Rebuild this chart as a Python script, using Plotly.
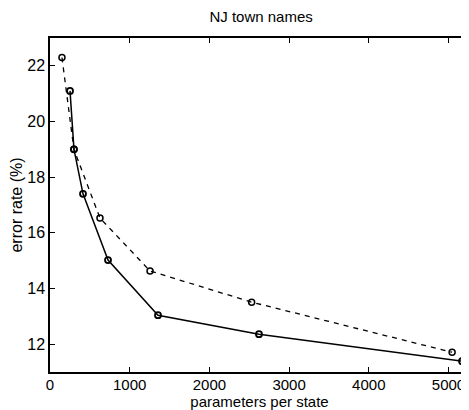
import plotly.graph_objects as go

# Data
solid_x = [251, 301, 414, 728, 1355, 2622, 5170]
solid_y = [21.1, 19.0, 17.4, 15.02, 13.04, 12.36, 11.39]
dash_x = [150, 300, 627, 1255, 2530, 5045]
dash_y = [22.3, 19.0, 16.53, 14.63, 13.51, 11.71]

x_ticks = [0, 1000, 2000, 3000, 4000, 5000]
y_ticks = [12, 14, 16, 18, 20, 22]

FONT = "Liberation Sans, Arial, Helvetica, sans-serif"

fig = go.Figure()
fig.add_trace(go.Scatter(
    x=dash_x, y=dash_y, mode="lines+markers",
    line=dict(color="black", width=1.3, dash="5px,5px"),
    marker=dict(symbol="circle-open", size=6, color="black", line=dict(width=1.5)),
    showlegend=False,
))
fig.add_trace(go.Scatter(
    x=solid_x, y=solid_y, mode="lines+markers",
    line=dict(color="black", width=1.5),
    marker=dict(symbol="circle-open", size=6, color="black", line=dict(width=1.8)),
    showlegend=False,
))

axis_common = dict(
    showgrid=False, zeroline=False, showline=True, linecolor="black", linewidth=1.5,
    mirror="allticks", ticks="inside", ticklen=5, tickwidth=1, tickcolor="black",
)
# page body has an 8px margin; figure is sized so that the visible region matches
fig.update_layout(
    width=461, height=402,
    margin=dict(l=42, r=0, t=30, b=38),
    paper_bgcolor="white", plot_bgcolor="white",
    title=dict(text="NJ town names", xref="container", x=0.549, xanchor="center",
               y=0.978, yanchor="middle",
               font=dict(family=FONT, size=15, color="black")),
    xaxis=dict(range=[0, 5257], tickvals=x_ticks, ticktext=[str(v) for v in x_ticks],
               tickfont=dict(family=FONT, size=15, color="black"), ticklabelstandoff=-2,
               **axis_common),
    yaxis=dict(range=[11, 23], tickvals=y_ticks, ticktext=[str(v) for v in y_ticks],
               tickfont=dict(family=FONT, size=16, color="black"),
               **axis_common),
)
fig.update_xaxes(title=dict(text="parameters per state", standoff=3,
                            font=dict(family=FONT, size=15, color="black")), automargin=False)
fig.update_yaxes(title=dict(text="error rate (%)", standoff=2,
                            font=dict(family=FONT, size=16, color="black")), automargin=False)

fig.write_html("out.html")
